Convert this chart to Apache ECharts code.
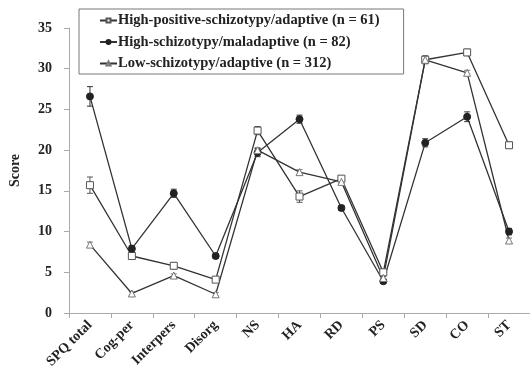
<!DOCTYPE html>
<html><head><meta charset="utf-8">
<script src="https://cdn.jsdelivr.net/npm/echarts@6/dist/echarts.min.js"></script>
<style>html,body{margin:0;padding:0;background:#fff}#c{width:530px;height:373px}</style>
</head><body><div id="c"></div>
<script>
const categories = ['SPQ total','Cog-per','Interpers','Disorg','NS','HA','RD','PS','SD','CO','ST'];
const seriesNames = ['High-positive-schizotypy/adaptive (n = 61)','High-schizotypy/maladaptive (n = 82)','Low-schizotypy/adaptive (n = 312)'];
const highPositive = [15.7, 7.0, 5.8, 4.1, 22.4, 14.3, 16.5, 5.0, 31.1, 32.0, 20.6];
const highPositiveErr = [1.0, 0.4, 0.4, 0.35, 0.5, 0.7, 0.3, 0.3, 0.5, 0.4, 0.4];
const highSchizo = [26.6, 7.9, 14.7, 7.0, 19.7, 23.8, 12.9, 3.9, 20.9, 24.1, 10.0];
const highSchizoErr = [1.2, 0.4, 0.5, 0.3, 0.5, 0.5, 0.3, 0.2, 0.5, 0.6, 0.4];
const lowSchizo = [8.4, 2.4, 4.6, 2.3, 20.0, 17.3, 16.1, 4.3, 31.1, 29.5, 8.9];
const lowSchizoErr = [0.3, 0.2, 0.2, 0.2, 0.3, 0.3, 0.2, 0.2, 0.3, 0.3, 0.3];
const yTicks = [0,5,10,15,20,25,30,35];

const font = '"Liberation Serif","Times New Roman",serif';
const chart = echarts.init(document.getElementById('c'), null, {renderer:'canvas'});

function errSeries(vals, errs, color) {
  return {
    type: 'custom', z: 3, silent: true,
    data: vals.map((v,i)=>[i, v-errs[i], v+errs[i]]),
    renderItem: function(params, api) {
      const lo = api.coord([api.value(0), api.value(1)]);
      const hi = api.coord([api.value(0), api.value(2)]);
      const w = 3;
      const st = {stroke: color, lineWidth: 1};
      return {type:'group', children:[
        {type:'line', shape:{x1:lo[0],y1:lo[1],x2:hi[0],y2:hi[1]}, style:st},
        {type:'line', shape:{x1:lo[0]-w,y1:lo[1],x2:lo[0]+w,y2:lo[1]}, style:st},
        {type:'line', shape:{x1:hi[0]-w,y1:hi[1],x2:hi[0]+w,y2:hi[1]}, style:st}
      ]};
    }
  };
}

const option = {
  animation: false,
  backgroundColor: '#fff',
  grid: {left: 67, right: 0, top: 28, bottom: 60, containLabel: false},
  legend: {
    orient: 'vertical', left: 79, top: 9,
    backgroundColor: '#fff', borderColor: '#777', borderWidth: 1,
    padding: [4, 24, 3, 20], itemGap: 6.5, itemWidth: 17, itemHeight: 5,
    textStyle: {fontFamily: font, fontWeight: 'bold', fontSize: 14.5, color: '#222', padding: [0,0,0,-4]},
    data: seriesNames
  },
  xAxis: {
    type: 'category', data: categories, boundaryGap: true,
    axisLine: {lineStyle: {color: '#aaa', width: 1}},
    axisTick: {show: true, length: 5, lineStyle: {color: '#aaa'}},
    axisLabel: {rotate: 45, margin: 10, fontFamily: font, fontWeight: 'bold', fontSize: 14, color: '#222', interval: 0}
  },
  yAxis: {
    type: 'value', min: 0, max: 35, interval: 5,
    name: 'Score', nameLocation: 'middle', nameGap: 47, nameRotate: 90,
    nameTextStyle: {fontFamily: font, fontWeight: 'bold', fontSize: 14, color: '#222'},
    axisLine: {show: true, lineStyle: {color: '#aaa', width: 1}},
    axisTick: {show: true, length: 5, lineStyle: {color: '#aaa'}},
    splitLine: {show: false},
    axisLabel: {margin: 17, fontFamily: font, fontWeight: 'bold', fontSize: 14, color: '#222',
      formatter: v => yTicks.includes(v) ? String(v) : ''}
  },
  series: [
    {name: seriesNames[0], type: 'line', data: highPositive, z: 4,
     symbol: 'rect', symbolSize: 7, lineStyle: {color: '#333', width: 1.3},
     itemStyle: {color: '#fff', borderColor: '#555', borderWidth: 1}},
    {name: seriesNames[1], type: 'line', data: highSchizo, z: 4,
     symbol: 'circle', symbolSize: 7, lineStyle: {color: '#333', width: 1.3},
     itemStyle: {color: '#222', borderColor: '#222', borderWidth: 1}},
    {name: seriesNames[2], type: 'line', data: lowSchizo, z: 4,
     symbol: 'triangle', symbolSize: 7, lineStyle: {color: '#333', width: 1.3},
     itemStyle: {color: '#fff', borderColor: '#777', borderWidth: 1}},
    errSeries(highPositive, highPositiveErr, '#555'),
    errSeries(highSchizo, highSchizoErr, '#333'),
    errSeries(lowSchizo, lowSchizoErr, '#777')
  ]
};
chart.setOption(option);
</script>
</body></html>
